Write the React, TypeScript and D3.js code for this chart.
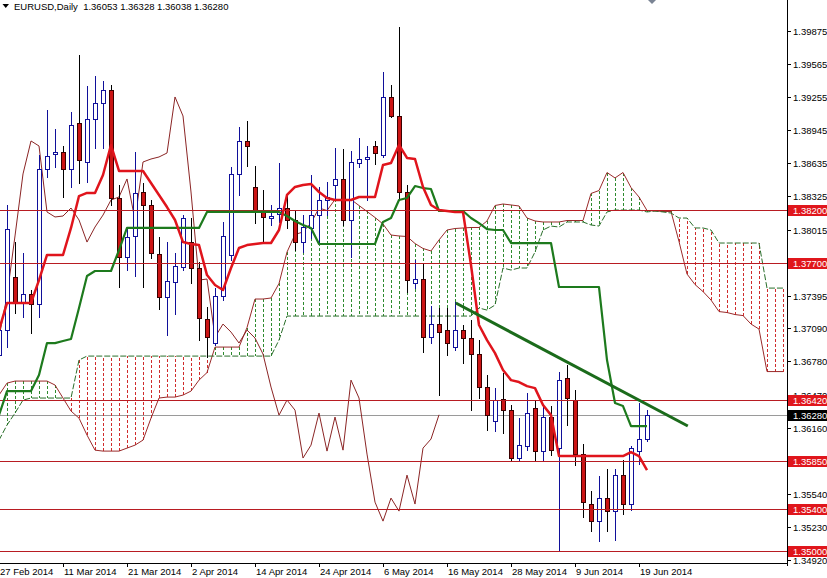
import React from "react";
import * as d3 from "d3";

// ---------- DATA ----------
const openP = [1.36840,1.37074,1.37571,1.37327,1.37411,1.37318,1.38582,1.38723,1.38742,1.38582,
 1.39013,1.38648,1.39051,1.39201,1.39323,1.38311,1.37758,1.37955,1.38367,1.38245,
 1.37786,1.37383,1.37524,1.37664,1.37898,1.37655,1.37177,1.36952,1.37392,1.37777,
 1.38536,1.38845,1.38414,1.38189,1.38123,1.38161,1.38217,1.38105,1.37898,1.38030,
 1.38151,1.38292,1.38433,1.38489,1.38105,1.38639,1.38676,1.38798,1.38714,1.39257,
 1.39079,1.38367,1.37514,1.37552,1.37008,1.37130,1.37074,1.36915,1.37074,1.36999,
 1.36849,1.36540,1.36221,1.36427,1.36324,1.35875,1.35987,1.36343,1.35940,1.36259,
 1.35968,1.36624,1.36418,1.35912,1.35444,1.35284,1.35500,1.35378,1.35715,1.35444,
 1.35940,1.36053];
const highP = [1.37355,1.38245,1.37898,1.37795,1.37449,1.38714,1.39135,1.38957,1.38798,1.39117,
 1.39651,1.39360,1.39454,1.39407,1.39370,1.38433,1.38039,1.38742,1.38451,1.38292,
 1.37945,1.37898,1.37795,1.38151,1.38123,1.37711,1.37289,1.37467,1.38086,1.38601,
 1.38976,1.39032,1.38611,1.38386,1.38245,1.38639,1.38339,1.38198,1.38151,1.38526,
 1.38414,1.38461,1.38779,1.38770,1.38751,1.38873,1.38798,1.38845,1.39491,1.39370,
 1.39913,1.38433,1.37730,1.37702,1.37299,1.37280,1.37280,1.37336,1.37121,1.37168,
 1.36980,1.36652,1.36530,1.36671,1.36371,1.36249,1.36484,1.36418,1.36362,1.36362,
 1.36680,1.36746,1.36512,1.36006,1.35565,1.35706,1.35771,1.35771,1.35856,1.35987,
 1.36390,1.36328];
const lowP = [1.36746,1.36915,1.37233,1.37196,1.37046,1.37196,1.38508,1.38601,1.38320,1.38414,
 1.38451,1.38461,1.38779,1.38779,1.38245,1.37477,1.37636,1.37580,1.37477,1.37749,
 1.37271,1.37027,1.37224,1.37636,1.37514,1.36980,1.36821,1.36933,1.37355,1.37730,
 1.38339,1.38611,1.38076,1.37889,1.38058,1.38086,1.38030,1.37823,1.37805,1.37936,
 1.37889,1.38151,1.38292,1.38058,1.37758,1.38601,1.38292,1.38629,1.38695,1.39070,
 1.38292,1.37430,1.37467,1.36868,1.36952,1.36465,1.36840,1.36886,1.36765,1.36324,
 1.36437,1.36137,1.36128,1.36109,1.35856,1.35846,1.35949,1.35846,1.35856,1.35903,
 1.35012,1.36184,1.35809,1.35322,1.35191,1.35097,1.35191,1.35106,1.35350,1.35387,
 1.35818,1.36038];
const closeP = [1.37074,1.38020,1.37327,1.37411,1.37318,1.38582,1.38704,1.38742,1.38582,1.38995,
 1.38667,1.39051,1.39201,1.39323,1.38311,1.37758,1.37945,1.38358,1.38245,1.37795,
 1.37383,1.37533,1.37674,1.38123,1.37655,1.37186,1.37008,1.37392,1.37955,1.38536,
 1.38845,1.38798,1.38180,1.38133,1.38142,1.38217,1.38105,1.37898,1.38039,1.38151,
 1.38292,1.38320,1.38489,1.38105,1.38648,1.38676,1.38695,1.38732,1.39257,1.39079,
 1.38367,1.37542,1.37552,1.37008,1.37130,1.37055,1.36952,1.37074,1.36999,1.36849,
 1.36540,1.36277,1.36418,1.36324,1.35875,1.35996,1.36296,1.35940,1.36259,1.35949,
 1.36605,1.36437,1.35912,1.35462,1.35284,1.35500,1.35378,1.35715,1.35444,1.35968,
 1.36053,1.36280];

const tenkanP = [1.37074,1.37327,1.37327,1.37327,1.37327,1.37542,1.37777,1.37777,1.37777,1.38030,
 1.38329,1.38358,1.38358,1.38526,1.38807,1.38564,1.38564,1.38564,1.38564,1.38451,
 1.38339,1.38226,1.38105,1.37898,1.37880,1.37870,1.37589,1.37496,1.37449,1.37655,
 1.37842,1.37870,1.37880,1.37889,1.37889,1.38011,1.38339,1.38414,1.38433,1.38442,
 1.38367,1.38311,1.38292,1.38292,1.38292,1.38320,1.38320,1.38320,1.38620,1.38639,
 1.38807,1.38686,1.38676,1.38414,1.38245,1.38198,1.38189,1.38180,1.38180,1.37683,
 1.37121,1.36980,1.36858,1.36699,1.36605,1.36587,1.36549,1.36530,1.36371,1.36277,
 1.35893,1.35893,1.35893,1.35893,1.35893,1.35893,1.35893,1.35893,1.35893,1.35931,
 1.35893,1.35762];
const kijunP = [1.36277,1.36502,1.36502,1.36502,1.36502,1.36652,1.36952,1.36952,1.36971,1.36990,
 1.37280,1.37580,1.37627,1.37627,1.37627,1.37823,1.38030,1.38030,1.38030,1.38030,
 1.38030,1.38030,1.38030,1.38030,1.38030,1.38030,1.38180,1.38180,1.38180,1.38180,
 1.38180,1.38180,1.38180,1.38180,1.38180,1.38180,1.38142,1.38095,1.38058,1.38030,
 1.37880,1.37880,1.37880,1.37880,1.37880,1.37880,1.37880,1.37880,1.38086,1.38123,
 1.38292,1.38311,1.38423,1.38404,1.38395,1.38189,1.38189,1.38189,1.38189,1.38123,
 1.38076,1.38020,1.38011,1.38011,1.37889,1.37889,1.37889,1.37889,1.37889,1.37889,
 1.37477,1.37477,1.37477,1.37477,1.37477,1.37477,1.36793,1.36390,1.36362,1.36174,
 1.36174,1.36174];
// Senkou span A for the first 26 cloud bars (earlier history not on the chart)
const senkouAEarly = [1.36465,1.36577,1.36596,1.36596,1.36596,1.36596,1.36596,1.36559,1.36437,1.36315,
 1.36249,1.36090,1.35949,1.35940,1.35940,1.35940,1.35968,1.35996,1.36043,1.36249,
 1.36437,1.36446,1.36446,1.36465,1.36502,1.36605];
const senkouB = [1.36043,1.36184,1.36296,1.36418,1.36437,1.36437,1.36437,1.36437,1.36437,1.36437,
 1.36793,1.36830,1.36830,1.36830,1.36830,1.36830,1.36830,1.36830,1.36830,1.36830,
 1.36830,1.36830,1.36830,1.36830,1.36830,1.36830,1.36830,1.36830,1.36830,1.36830,
 1.36830,1.36830,1.36830,1.36830,1.36830,1.36980,1.37205,1.37205,1.37205,1.37205,
 1.37205,1.37205,1.37205,1.37205,1.37205,1.37205,1.37205,1.37205,1.37205,1.37205,
 1.37205,1.37205,1.37205,1.37205,1.37205,1.37205,1.37205,1.37205,1.37205,1.37205,
 1.37280,1.37261,1.37308,1.37655,1.37636,1.37655,1.37655,1.37805,1.38011,1.38048,
 1.38039,1.38086,1.38086,1.38086,1.38058,1.38048,1.38180,1.38198,1.38198,1.38198,
 1.38198,1.38180,1.38189,1.38180,1.38170,1.38123,1.38123,1.38030,1.38030,1.38011,
 1.37889,1.37889,1.37889,1.37889,1.37889,1.37889,1.37467,1.37467,1.37467];

const levelPrices = [1.382, 1.377, 1.3642, 1.3585, 1.354, 1.35];
const levelLabels = ["1.38200", "1.37700", "1.36420", "1.35850", "1.35400", "1.35000"];
const currentPrice = 1.3628;
const currentLabel = "1.36280";
const priceTickLabels = ["1.39875","1.39565","1.39255","1.38945","1.38635","1.38325","1.38015","1.37705",
 "1.37395","1.37090","1.36780","1.36470","1.36160","1.35850","1.35540","1.35230","1.34920"];
const dateLabels = ["27 Feb 2014","11 Mar 2014","21 Mar 2014","2 Apr 2014","14 Apr 2014","24 Apr 2014",
 "6 May 2014","16 May 2014","28 May 2014","9 Jun 2014","19 Jun 2014"];
const dateBars = [0, 8, 16, 24, 32, 40, 48, 56, 64, 72, 80];
const trendBars = [57.1, 86.1];
const trendPrices = [1.37327, 1.36175];
const headerText = "EURUSD,Daily  1.36053 1.36328 1.36038 1.36280";

// ---------- CHART ----------
const W = 827, H = 578;
const PR = 787, PB = 563;
const FONT = "'Liberation Sans', Arial, sans-serif";

export default function App() {
  const x = d3.scaleLinear().domain([0, 80]).range([-1, 639]);
  const y = d3.scaleLinear().domain([1.3492, 1.39875]).range([560, 31]);
  const px = (i: number) => Math.round(x(i)) + 0.5;
  const ry = (p: number) => Math.round(y(p));

  const senkouA = senkouB.map((_, j) => (j < 26 ? senkouAEarly[j] : (tenkanP[j - 26] + kijunP[j - 26]) / 2));
  const chikou = closeP.slice(26);

  const line = d3.line<[number, number]>().x(d => x(d[0])).y(d => y(d[1]));
  const series = (arr: number[]) => line(arr.map((v, i) => [i, v] as [number, number])) || "";

  const BULL = "#10109a";
  const BEAR = "#cc1414";

  return (
    <svg width={W} height={H} style={{ position: "absolute", left: 0, top: 0, background: "#fff" }}
      xmlns="http://www.w3.org/2000/svg">
      <defs>
        <clipPath id="plot"><rect x={0} y={0} width={PR} height={PB} /></clipPath>
      </defs>
      <rect x={0} y={0} width={W} height={H} fill="#fff" />

      <g clipPath="url(#plot)">
        {/* current price line */}
        <line x1={0} x2={PR} y1={ry(currentPrice) + 0.5} y2={ry(currentPrice) + 0.5} stroke="#9a9a9a" strokeWidth={1} />

        {/* cloud hatch */}
        {senkouB.map((b, j) => {
          const a = senkouA[j];
          const green = a > b;
          return (
            <line key={"h" + j} x1={px(j)} x2={px(j)} y1={Math.round(y(a))} y2={Math.round(y(b))}
              stroke={green ? "#2e8a2e" : "#d02c2c"} strokeWidth={1} strokeDasharray="3,2" />
          );
        })}
        {/* cloud boundaries */}
        <path d={series(senkouA)} fill="none" stroke="#9a2a2a" strokeWidth={1} />
        <path d={series(senkouB)} fill="none" stroke="#2a6e2a" strokeWidth={1} strokeDasharray="6,2" />

        {/* chikou span */}
        <path d={series(chikou)} fill="none" stroke="#8b2525" strokeWidth={1} />

        {/* candles */}
        {openP.map((o, i) => {
          const c = closeP[i], h = highP[i], l = lowP[i];
          const xc = px(i);
          const bull = c >= o;
          const top = ry(Math.max(o, c)), bot = ry(Math.min(o, c));
          return (
            <g key={"c" + i}>
              <line x1={xc} x2={xc} y1={ry(h)} y2={ry(l) + 1} stroke={bull ? BULL : "#000"} strokeWidth={1} />
              <rect x={xc - 2} y={top + 0.5} width={4} height={Math.max(bot - top, 0.5)}
                fill={bull ? "#fff" : BEAR} stroke={bull ? BULL : "#3a0000"} strokeWidth={1} />
            </g>
          );
        })}

        {/* level lines */}
        {levelPrices.map((p, k) => (
          <line key={"l" + k} x1={0} x2={PR} y1={ry(p) + 0.5} y2={ry(p) + 0.5} stroke="#b81c22" strokeWidth={1} />
        ))}

        {/* kijun & tenkan */}
        <path d={series(kijunP)} fill="none" stroke="#1d7a1d" strokeWidth={2.2} strokeLinejoin="round" />
        <path d={series(tenkanP)} fill="none" stroke="#e0141c" strokeWidth={2.5} strokeLinejoin="round" />

        {/* trend line */}
        <line x1={x(trendBars[0])} y1={y(trendPrices[0])} x2={x(trendBars[1])} y2={y(trendPrices[1])}
          stroke="#1b6b1b" strokeWidth={3} />
      </g>

      {/* axes */}
      <line x1={PR + 0.5} x2={PR + 0.5} y1={0} y2={PB + 3} stroke="#000" strokeWidth={1} />
      <line x1={0} x2={PR + 1} y1={PB + 0.5} y2={PB + 0.5} stroke="#000" strokeWidth={1} />

      {priceTickLabels.map((t, k) => {
        const yy = ry(+t);
        return (
          <g key={"pt" + k}>
            <line x1={PR} x2={PR + 4} y1={yy + 0.5} y2={yy + 0.5} stroke="#000" />
            <text x={793} y={yy + 4} fontFamily={FONT} fontSize={9.5} fill="#000">{t}</text>
          </g>
        );
      })}

      {levelPrices.map((p, k) => {
        const yy = ry(p);
        return (
          <g key={"lb" + k}>
            <rect x={788} y={yy - 5} width={39} height={11} fill="#e0161c" />
            <text x={793} y={yy + 4} fontFamily={FONT} fontSize={9.5} fill="#fff">{levelLabels[k]}</text>
          </g>
        );
      })}
      <g>
        <rect x={788} y={ry(currentPrice) - 5} width={39} height={11} fill="#000" />
        <text x={793} y={ry(currentPrice) + 4} fontFamily={FONT} fontSize={9.5} fill="#fff">{currentLabel}</text>
      </g>

      {dateBars.map((b, k) => {
        const xx = Math.round(x(b)) + 0.5;
        return (
          <g key={"d" + k}>
            <line x1={xx} x2={xx} y1={PB} y2={PB + 4} stroke="#000" />
            <text x={Math.max(xx + 0.5, 0)} y={575} fontFamily={FONT} fontSize={9.5} fill="#000">{dateLabels[k]}</text>
          </g>
        );
      })}

      {/* header */}
      <path d="M2.5,4 L9,4 L5.75,8 Z" fill="#000" />
      <text x={14} y={10} fontFamily={FONT} fontSize={9.5} fill="#000" style={{ whiteSpace: "pre" }}>{headerText}</text>
      <path d="M648,0 L656,0 L652,4 Z" fill="#7a8494" />
    </svg>
  );
}
